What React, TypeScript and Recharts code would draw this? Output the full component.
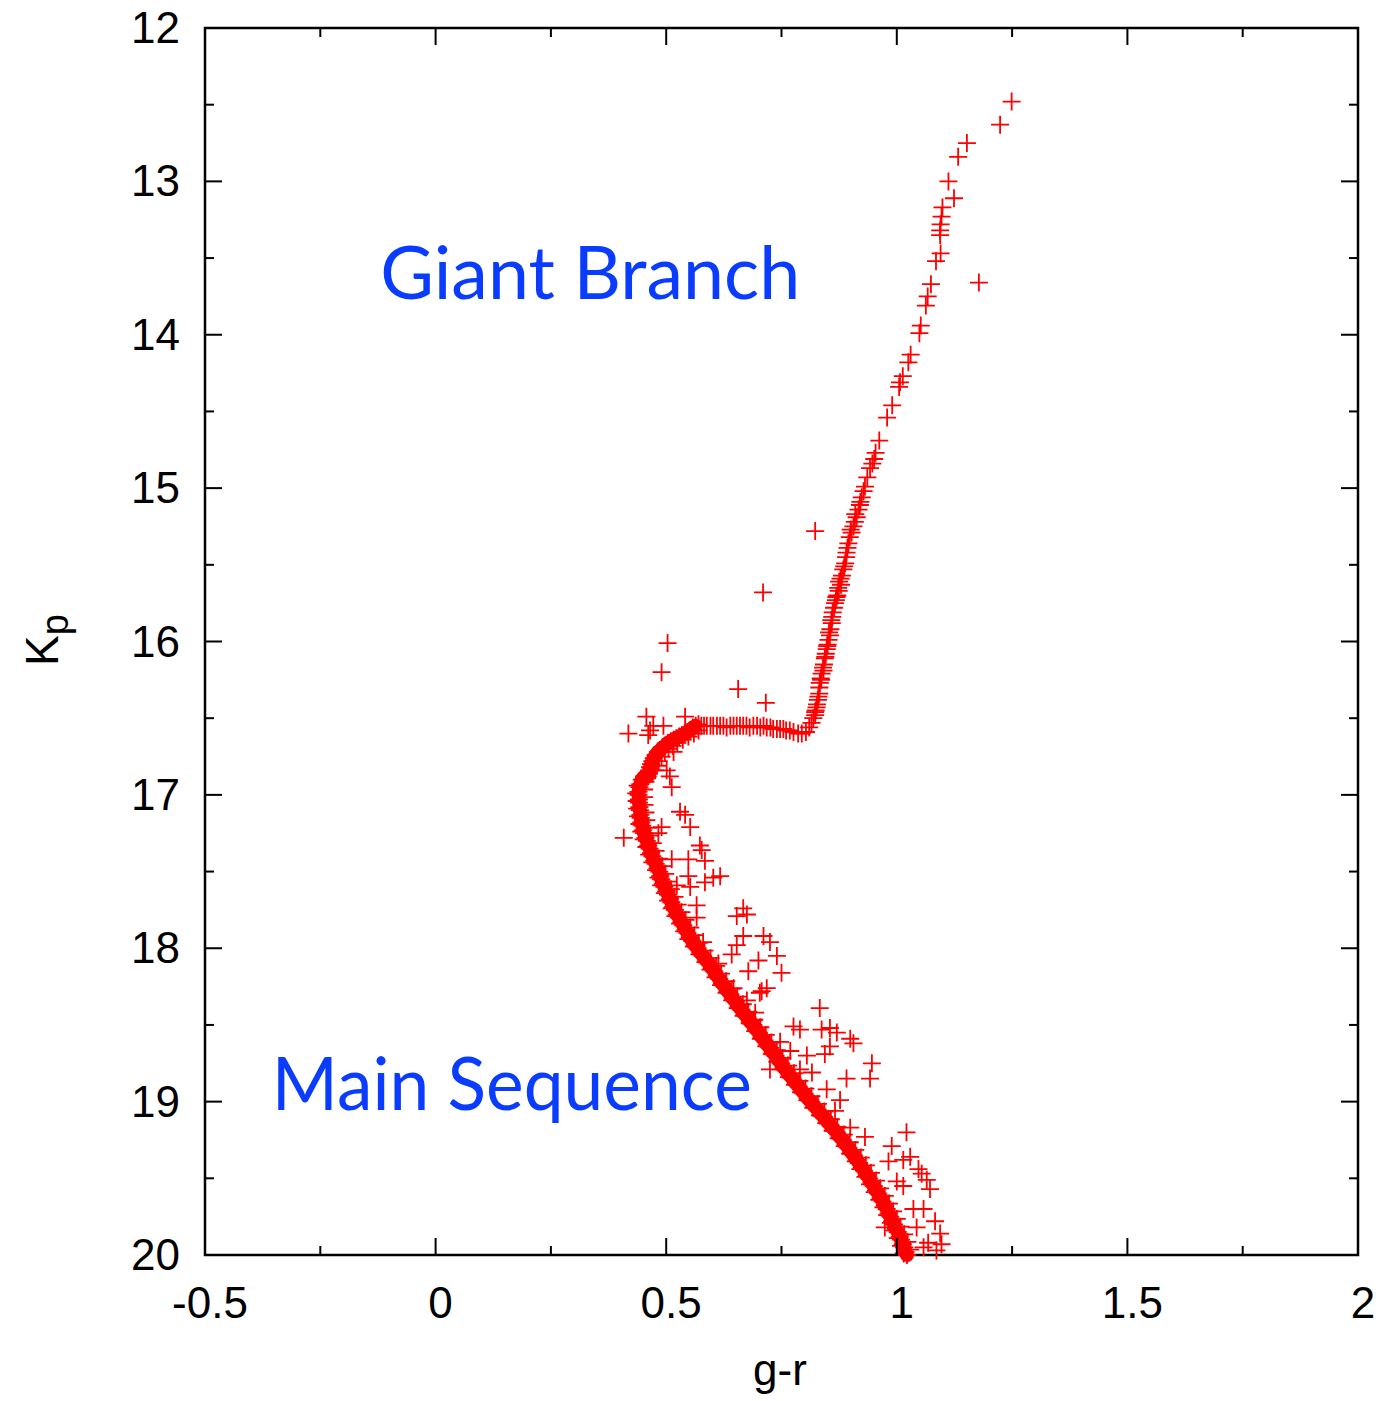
import {
  ScatterChart, Scatter, XAxis, YAxis, ReferenceArea, ReferenceDot,
} from 'recharts';

// plot box in page pixels (body margin is removed below)
const PLOT = { left: 205, top: 28, right: 1358, bottom: 1255 };

// tick values
const xTicks = [-0.5, -0.25, 0, 0.25, 0.5, 0.75, 1, 1.25, 1.5, 1.75, 2];
const xLabelTicks = [-0.5, 0, 0.5, 1, 1.5, 2];
const yTicks = [12, 12.5, 13, 13.5, 14, 14.5, 15, 15.5, 16, 16.5, 17, 17.5, 18, 18.5, 19, 19.5, 20];
const yLabelTicks = [12, 13, 14, 15, 16, 17, 18, 19, 20];

// [g-r, Kp] pairs
const giantBranch: [number, number][] = [
  [1.249, 12.48], [1.224, 12.63], [1.152, 12.75], [1.133, 12.84], [1.112, 13.0], [1.124, 13.11],
  [1.099, 13.17], [1.097, 13.23], [1.095, 13.28], [1.094, 13.32], [1.094, 13.35], [1.095, 13.47],
  [1.085, 13.52], [1.074, 13.67], [1.067, 13.75], [1.063, 13.81], [1.052, 13.94], [1.049, 13.99],
  [1.03, 14.13], [1.025, 14.18], [1.013, 14.27], [1.007, 14.31], [1.005, 14.34], [0.99, 14.46],
  [0.979, 14.54], [0.962, 14.69], [0.954, 14.77], [0.951, 14.81], [0.947, 14.84], [0.942, 14.87],
  [0.936, 14.93], [0.931, 14.99], [0.928, 15.02], [0.924, 15.06], [0.921, 15.09], [0.917, 15.14],
  [0.913, 15.19], [0.909, 15.22], [0.906, 15.25], [0.902, 15.29], [0.898, 15.32], [0.895, 15.36],
  [0.891, 15.42], [0.89, 15.45], [0.888, 15.49], [0.884, 15.53], [0.881, 15.57], [0.878, 15.59],
  [0.875, 15.61], [0.873, 15.65], [0.871, 15.7], [0.868, 15.73], [0.866, 15.75], [0.861, 15.81],
  [0.86, 15.84], [0.859, 15.88], [0.856, 15.92], [0.855, 15.96], [0.852, 15.99], [0.85, 16.02],
  [0.848, 16.05], [0.846, 16.08], [0.844, 16.11], [0.842, 16.15], [0.841, 16.19], [0.837, 16.21],
  [0.835, 16.24], [0.833, 16.27], [0.832, 16.3], [0.832, 16.34], [0.829, 16.38], [0.826, 16.43],
  [0.823, 16.46], [0.823, 16.48], [0.819, 16.5], [0.815, 16.53], [0.81, 16.56], [0.803, 16.59],
  [0.794, 16.6],
  [0.92, 15.11], [0.91, 15.17], [0.9, 15.27], [0.893, 15.39], [0.886, 15.51], [0.879, 15.63],
  [0.874, 15.67], [0.869, 15.71], [0.864, 15.78], [0.858, 15.86], [0.853, 15.94], [0.849, 16.03],
  [0.845, 16.1], [0.84, 16.17], [0.836, 16.25], [0.83, 16.36], [0.827, 16.41], [0.824, 16.45],
];

const subgiant: [number, number][] = [
  [0.786, 16.6], [0.776, 16.59], [0.768, 16.58], [0.76, 16.58], [0.754, 16.57], [0.747, 16.57],
  [0.74, 16.57], [0.732, 16.57], [0.726, 16.56], [0.718, 16.56], [0.711, 16.55], [0.704, 16.56],
  [0.697, 16.55], [0.689, 16.55], [0.681, 16.56], [0.674, 16.55], [0.667, 16.55], [0.66, 16.55],
  [0.653, 16.55], [0.646, 16.55], [0.639, 16.55], [0.631, 16.56], [0.624, 16.55], [0.617, 16.55],
  [0.61, 16.55], [0.602, 16.55], [0.596, 16.55], [0.588, 16.55], [0.582, 16.55], [0.576, 16.55],
  [0.57, 16.54],
  [0.57, 16.58], [0.56, 16.6], [0.548, 16.62], [0.536, 16.64], [0.524, 16.66], [0.514, 16.68],
  [0.505, 16.7], [0.497, 16.72], [0.49, 16.75], [0.484, 16.78], [0.48, 16.81], [0.476, 16.84],
];

// hook from the subgiant branch down to the turnoff, then the main-sequence ridge
const mainSequence: [number, number][] = [
  [0.564, 16.55], [0.558, 16.56], [0.552, 16.58], [0.546, 16.59], [0.54, 16.6], [0.534, 16.61],
  [0.528, 16.62], [0.522, 16.63], [0.516, 16.64], [0.51, 16.65], [0.504, 16.66], [0.498, 16.68],
  [0.492, 16.69], [0.487, 16.71], [0.482, 16.72], [0.477, 16.74], [0.473, 16.76], [0.47, 16.78],
  [0.467, 16.8], [0.465, 16.82], [0.463, 16.84], [0.462, 16.86], [0.46, 16.88],
  [0.452, 16.88], [0.447, 16.9], [0.444, 16.93], [0.442, 16.95], [0.44, 16.98], [0.44, 17.0],
  [0.441, 17.03], [0.441, 17.05], [0.442, 17.08], [0.443, 17.1], [0.444, 17.13], [0.445, 17.15],
  [0.446, 17.18], [0.448, 17.2], [0.45, 17.23], [0.452, 17.25], [0.455, 17.28], [0.458, 17.3],
  [0.461, 17.33], [0.464, 17.35], [0.467, 17.38], [0.47, 17.4], [0.474, 17.43], [0.477, 17.45],
  [0.481, 17.48], [0.485, 17.5], [0.487, 17.53], [0.489, 17.55], [0.493, 17.58], [0.496, 17.6],
  [0.5, 17.63], [0.504, 17.65], [0.508, 17.68], [0.511, 17.7], [0.515, 17.73], [0.519, 17.75],
  [0.523, 17.78], [0.528, 17.8], [0.533, 17.83], [0.537, 17.85], [0.542, 17.88], [0.546, 17.9],
  [0.551, 17.93], [0.556, 17.95], [0.562, 17.98], [0.568, 18.0], [0.574, 18.03], [0.58, 18.05],
  [0.587, 18.08], [0.593, 18.1], [0.599, 18.13], [0.604, 18.15], [0.61, 18.18], [0.615, 18.2],
  [0.621, 18.23], [0.627, 18.25], [0.633, 18.28], [0.639, 18.3], [0.645, 18.33], [0.651, 18.35],
  [0.657, 18.38], [0.663, 18.4], [0.67, 18.43], [0.676, 18.45], [0.682, 18.48], [0.689, 18.5],
  [0.695, 18.53], [0.701, 18.55], [0.707, 18.58], [0.713, 18.6], [0.719, 18.63], [0.725, 18.65],
  [0.731, 18.68], [0.737, 18.7], [0.743, 18.73], [0.749, 18.75], [0.755, 18.78], [0.761, 18.8],
  [0.768, 18.83], [0.774, 18.85], [0.781, 18.88], [0.787, 18.9], [0.794, 18.93], [0.8, 18.95],
  [0.807, 18.98], [0.814, 19.0], [0.821, 19.03], [0.828, 19.05], [0.835, 19.08], [0.842, 19.1],
  [0.849, 19.13], [0.856, 19.15], [0.863, 19.18], [0.87, 19.2], [0.876, 19.23], [0.883, 19.25],
  [0.889, 19.28], [0.895, 19.3], [0.901, 19.33], [0.907, 19.35], [0.913, 19.38], [0.918, 19.4],
  [0.924, 19.43], [0.929, 19.45], [0.935, 19.48], [0.94, 19.5], [0.945, 19.53], [0.95, 19.55],
  [0.955, 19.58], [0.96, 19.6], [0.965, 19.63], [0.969, 19.65], [0.974, 19.68], [0.978, 19.7],
  [0.982, 19.73], [0.986, 19.75], [0.99, 19.78], [0.994, 19.8], [0.998, 19.83], [1.002, 19.85],
  [1.006, 19.88], [1.009, 19.9], [1.013, 19.93], [1.016, 19.95], [1.019, 19.98], [1.022, 20.0],
];

// redder edge of the main-sequence ridge
const mainSequenceRed: [number, number][] = [
  [0.455, 16.915], [0.452, 16.965], [0.452, 17.015], [0.453, 17.065], [0.455, 17.115], [0.457, 17.165],
  [0.461, 17.215], [0.465, 17.265], [0.471, 17.315], [0.477, 17.365], [0.484, 17.415], [0.491, 17.465],
  [0.498, 17.515], [0.503, 17.565], [0.51, 17.615], [0.518, 17.665], [0.525, 17.715], [0.533, 17.765],
  [0.542, 17.815], [0.552, 17.865], [0.561, 17.915], [0.571, 17.965], [0.583, 18.015], [0.596, 18.065],
  [0.608, 18.115], [0.619, 18.165], [0.63, 18.215], [0.642, 18.265], [0.654, 18.315], [0.666, 18.365],
  [0.678, 18.415], [0.691, 18.465], [0.704, 18.515], [0.716, 18.565], [0.728, 18.615], [0.74, 18.665],
  [0.752, 18.715], [0.764, 18.765], [0.777, 18.815], [0.789, 18.865], [0.802, 18.915], [0.815, 18.965],
  [0.829, 19.015], [0.843, 19.065], [0.857, 19.115], [0.871, 19.165], [0.885, 19.215], [0.898, 19.265],
  [0.91, 19.315], [0.922, 19.365], [0.933, 19.415], [0.944, 19.465], [0.955, 19.515], [0.964, 19.565],
  [0.974, 19.615], [0.983, 19.665], [0.992, 19.715], [1.0, 19.765], [1.008, 19.815], [1.016, 19.865],
  [1.023, 19.915], [1.029, 19.965],
];

// bluer edge of the main-sequence ridge
const mainSequenceBlue: [number, number][] = [
  [0.438, 16.94], [0.435, 16.99], [0.436, 17.04], [0.437, 17.09], [0.439, 17.14], [0.442, 17.19],
  [0.446, 17.24], [0.451, 17.29], [0.457, 17.34], [0.463, 17.39], [0.47, 17.44], [0.478, 17.49],
  [0.483, 17.54], [0.489, 17.59], [0.497, 17.64], [0.504, 17.69], [0.512, 17.74], [0.52, 17.79],
  [0.53, 17.84], [0.539, 17.89], [0.548, 17.94], [0.56, 17.99], [0.572, 18.04], [0.585, 18.09],
  [0.596, 18.14], [0.607, 18.19], [0.619, 18.24], [0.631, 18.29], [0.643, 18.34], [0.655, 18.39],
  [0.668, 18.44], [0.681, 18.49], [0.693, 18.54], [0.705, 18.59], [0.717, 18.64], [0.729, 18.69],
  [0.741, 18.74], [0.753, 18.79], [0.766, 18.84], [0.779, 18.89], [0.792, 18.94], [0.806, 18.99],
  [0.819, 19.04], [0.833, 19.09], [0.847, 19.14], [0.861, 19.19], [0.874, 19.24], [0.887, 19.29],
  [0.899, 19.34], [0.911, 19.39], [0.921, 19.44], [0.932, 19.49], [0.942, 19.54], [0.952, 19.59],
  [0.962, 19.64], [0.971, 19.69], [0.979, 19.74], [0.987, 19.79], [0.995, 19.84], [1.002, 19.89],
  [1.009, 19.94], [1.015, 19.99],
];

const strays: [number, number][] = [
  [1.178, 13.66], [0.823, 15.28], [0.71, 15.68], [0.503, 16.01], [0.49, 16.2], [0.656, 16.31],
  [0.716, 16.4], [0.457, 16.49], [0.541, 16.49], [0.418, 16.6], [0.494, 16.55], [0.465, 16.58],
  [0.472, 16.55], [0.461, 16.61], [0.516, 16.72], [0.501, 16.84], [0.508, 16.88], [0.512, 16.95],
  [0.53, 17.11], [0.541, 17.13], [0.552, 17.21], [0.408, 17.28], [0.49, 17.21], [0.483, 17.25],
  [0.573, 17.33], [0.577, 17.36], [0.512, 17.42], [0.548, 17.42], [0.584, 17.43], [0.617, 17.53],
  [0.602, 17.54], [0.548, 17.53], [0.523, 17.59], [0.552, 17.6], [0.584, 17.57], [0.566, 17.72],
  [0.667, 17.74], [0.653, 17.79], [0.566, 17.8], [0.675, 17.78], [0.667, 17.92], [0.711, 17.92],
  [0.725, 17.96], [0.653, 17.98], [0.58, 17.96], [0.74, 18.05], [0.7, 18.08], [0.642, 18.04],
  [0.75, 18.16], [0.678, 18.15], [0.613, 18.1], [0.718, 18.26], [0.703, 18.29], [0.646, 18.26],
  [0.675, 18.34], [0.707, 18.28], [0.833, 18.39], [0.693, 18.42], [0.689, 18.47], [0.776, 18.51],
  [0.79, 18.53], [0.837, 18.53], [0.855, 18.52], [0.87, 18.55], [0.899, 18.59], [0.906, 18.62],
  [0.747, 18.61], [0.769, 18.67], [0.805, 18.7], [0.844, 18.69], [0.855, 18.64], [0.946, 18.75],
  [0.891, 18.85], [0.942, 18.85], [0.725, 18.79], [0.79, 18.79], [0.816, 18.81], [0.848, 18.92],
  [0.877, 18.99], [0.866, 19.06], [0.899, 19.17], [0.931, 19.23], [1.021, 19.2], [0.989, 19.29],
  [1.029, 19.36], [0.982, 19.39], [1.014, 19.38], [1.047, 19.44], [1.054, 19.47], [1.0, 19.52],
  [1.065, 19.51], [1.072, 19.57], [1.014, 19.55], [1.036, 19.7], [1.058, 19.7], [0.974, 19.82],
  [1.083, 19.78], [1.043, 19.82], [1.094, 19.86], [1.068, 19.92], [1.097, 19.93], [1.086, 19.97],
  [1.058, 19.95],
];

const toRows = (pts: [number, number][]) => pts.map(([x, y]) => ({ x, y }));

const RED = '#ff0000';
const TICK_FONT = '"Liberation Sans", Arial, Helvetica, sans-serif';
const LABEL_FONT = 'Lato, "Open Sans", sans-serif';

// '+' marker like gnuplot's point type 1
const Cross = (props: any) => {
  const { cx, cy } = props;
  if (cx == null || cy == null) return null;
  return (
    <path
      d={`M${cx - 9},${cy}H${cx + 9}M${cx},${cy - 9}V${cy + 9}`}
      stroke={RED} strokeWidth={1.8} fill="none"
    />
  );
};

// ticks point inward on both opposite sides; only majors carry a label
const XTick = (props: any) => {
  const { x, payload } = props;
  const major = xLabelTicks.includes(payload.value);
  const len = major ? 17 : 9;
  return (
    <g>
      <line x1={x} x2={x} y1={PLOT.bottom} y2={PLOT.bottom - len} stroke="#000" strokeWidth={2} />
      <line x1={x} x2={x} y1={PLOT.top} y2={PLOT.top + len} stroke="#000" strokeWidth={2} />
      {major && (
        <text x={x + 5} y={PLOT.bottom + 63} textAnchor="middle" fontSize={44} fontFamily={TICK_FONT} fill="#000">
          {String(payload.value)}
        </text>
      )}
    </g>
  );
};

const YTick = (props: any) => {
  const { y, payload } = props;
  const major = yLabelTicks.includes(payload.value);
  const len = major ? 17 : 9;
  return (
    <g>
      <line x1={PLOT.left} x2={PLOT.left + len} y1={y} y2={y} stroke="#000" strokeWidth={2} />
      <line x1={PLOT.right} x2={PLOT.right - len} y1={y} y2={y} stroke="#000" strokeWidth={2} />
      {major && (
        <text x={180} y={y + 15} textAnchor="end" fontSize={44} fontFamily={TICK_FONT} fill="#000">
          {String(payload.value)}
        </text>
      )}
    </g>
  );
};

const annotation = (text: string, width: number) => (p: any) => (
  <text x={p.viewBox.x} y={p.viewBox.y} fontSize={73} fontFamily={LABEL_FONT} fill="#0a3cff"
    textLength={width} lengthAdjust="spacingAndGlyphs">
    {text}
  </text>
);

if (typeof document !== 'undefined') document.body.style.margin = '0';

export default function App() {
  return (
    <div style={{ width: 1384, height: 1401, overflow: 'hidden', background: '#fff' }}>
      <ScatterChart width={1384} height={1401} margin={{ top: 28, right: 26, bottom: 46, left: 105 }}>
        <XAxis
          type="number" dataKey="x" domain={[-0.5, 2]} ticks={xTicks} interval={0}
          height={100} axisLine={false} tickLine={false} tick={<XTick />}
          label={{
            content: () => (
              <text x={780} y={1385} textAnchor="middle" fontSize={44} fontFamily={TICK_FONT} fill="#000">g-r</text>
            ),
          }}
        />
        <YAxis
          type="number" dataKey="y" domain={[12, 20]} reversed ticks={yTicks} interval={0}
          width={100} axisLine={false} tickLine={false} tick={<YTick />}
          label={{
            content: () => (
              <text transform="rotate(-90, 58, 640)" x={58} y={640} textAnchor="middle"
                fontSize={46} fontFamily={TICK_FONT} fill="#000">
                K<tspan fontSize={38} dy={10}>p</tspan>
              </text>
            ),
          }}
        />
        <Scatter data={toRows(giantBranch)} shape={<Cross />} isAnimationActive={false} />
        <Scatter data={toRows(subgiant)} shape={<Cross />} isAnimationActive={false} />
        {/* the ridge is so crowded that the crosses merge into a solid band */}
        <Scatter
          data={toRows(mainSequence)} shape={<Cross />} isAnimationActive={false}
          line={{ stroke: RED, strokeWidth: 14, strokeLinejoin: 'round', strokeLinecap: 'round' }}
          lineType="joint"
        />
        <Scatter data={toRows(mainSequenceRed)} shape={<Cross />} isAnimationActive={false} />
        <Scatter data={toRows(mainSequenceBlue)} shape={<Cross />} isAnimationActive={false} />
        <Scatter data={toRows(strays)} shape={<Cross />} isAnimationActive={false} />
        <ReferenceArea x1={-0.5} x2={2} y1={12} y2={20} fill="none" stroke="#000" strokeWidth={2.5} fillOpacity={0} />
        <ReferenceDot x={-0.12} y={13.77} r={0} fill="none" stroke="none"
          label={{ content: annotation('Giant Branch', 420) }} />
        <ReferenceDot x={-0.355} y={19.054} r={0} fill="none" stroke="none"
          label={{ content: annotation('Main Sequence', 480) }} />
      </ScatterChart>
    </div>
  );
}
